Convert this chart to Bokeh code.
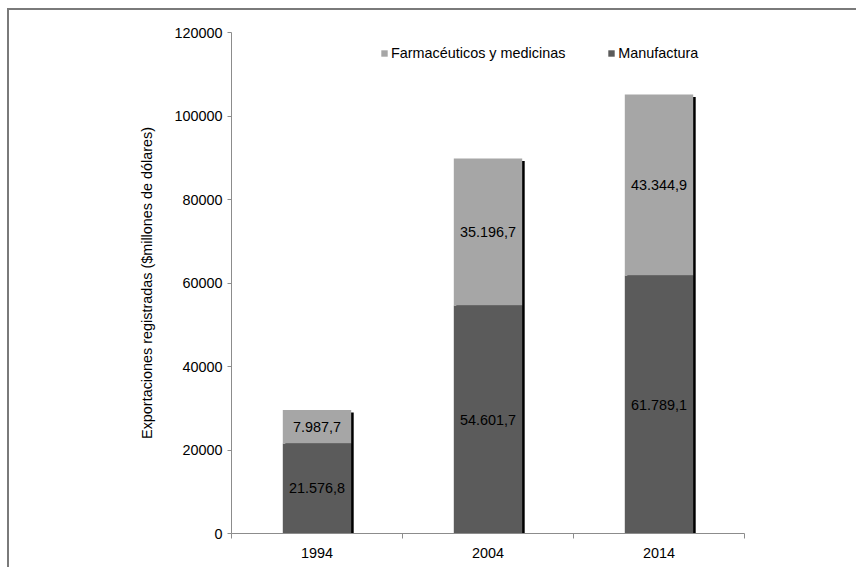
from bokeh.plotting import figure
from bokeh.models import (Range1d, FixedTicker, Legend, LegendItem, ColumnDataSource,
                          NumeralTickFormatter)
from bokeh.embed import file_html
from bokeh.resources import INLINE

# Exportaciones registradas, millones de dólares
years = ["1994", "2004", "2014"]
manufactura = [21576.8, 54601.7, 61789.1]
farmaceuticos = [7987.7, 35196.7, 43344.9]
y_ticks = [0, 20000, 40000, 60000, 80000, 100000, 120000]

LIGHT = "#a6a6a6"
DARK = "#5b5b5b"
AXIS = "#8c8c8c"
FONT = "Liberation Sans"
FS = "14.4px"

# canvas offset inside the page; the frame line is drawn to its top and left
OFF_X, OFF_Y = 9, 10
W, H = 860 - OFF_X, 571 - OFF_Y
FRAME_L, FRAME_T, FRAME_W, FRAME_H = 231 - OFF_X, 32 - OFF_Y, 513, 501
Y_MAX = 120000


def es_fmt(v):
    s = f"{v:,.1f}"
    return s.replace(",", "_").replace(".", ",").replace("_", ".")


x = [i + 0.5 for i in range(len(years))]
totals = [m + f for m, f in zip(manufactura, farmaceuticos)]
bar_w = 0.4

# shadow offset (2.5 px right, 2.5 px down) expressed in data units
sx = 2.5 * len(years) / FRAME_W
sy = 2.5 * Y_MAX / FRAME_H

src = ColumnDataSource(dict(
    x=x,
    xs=[v + sx for v in x],
    man=manufactura,
    far=farmaceuticos,
    tot=totals,
    tot_s=[t - sy for t in totals],
    bot_s=[-sy] * len(x),
    man_mid=[m / 2 for m in manufactura],
    far_mid=[m + f / 2 for m, f in zip(manufactura, farmaceuticos)],
    man_lbl=[es_fmt(v) for v in manufactura],
    far_lbl=[es_fmt(v) for v in farmaceuticos],
))

p = figure(width=W, height=H, output_backend="svg", toolbar_location=None,
           x_range=Range1d(0, len(years)), y_range=Range1d(0, Y_MAX),
           min_border_left=FRAME_L, min_border_top=FRAME_T,
           min_border_right=W - FRAME_L - FRAME_W,
           min_border_bottom=H - FRAME_T - FRAME_H)
# frame line on the top and left of the chart box; right/bottom edges trimmed
p.styles = {"margin-left": f"{OFF_X}px", "margin-top": f"{OFF_Y}px",
            "box-shadow": "-2px -2px 0 0 #7a7a7a",
            "clip-path": "inset(-3px 4px 4px -3px)"}
p.outline_line_color = None
p.grid.visible = False
p.background_fill_color = "white"
p.border_fill_color = "white"

# drop shadows behind the stacked bars
p.vbar(x="xs", width=bar_w, bottom="bot_s", top="tot_s", source=src,
       fill_color="black", line_color=None)

r_man = p.vbar(x="x", width=bar_w, bottom=0, top="man", source=src,
               fill_color=DARK, line_color=None)
r_far = p.vbar(x="x", width=bar_w, bottom="man", top="tot", source=src,
               fill_color=LIGHT, line_color=None)

for col_y, col_t in (("man_mid", "man_lbl"), ("far_mid", "far_lbl")):
    p.text(x="x", y=col_y, text=col_t, source=src, text_align="center",
           text_baseline="middle", text_font_size=FS, text_color="black",
           text_font={"value": FONT})

# axes
ya = p.yaxis[0]
ya.ticker = FixedTicker(ticks=y_ticks)
ya.formatter = NumeralTickFormatter(format="0")
ya.axis_label = "Exportaciones registradas ($millones de dólares)"
ya.axis_label_text_font = FONT
ya.axis_label_text_font_style = "normal"
ya.axis_label_text_font_size = FS
ya.axis_label_text_color = "black"
ya.axis_label_standoff = 16
ya.major_label_text_font = FONT
ya.major_label_text_font_size = FS
ya.major_label_text_color = "black"
ya.major_label_standoff = 5
ya.axis_line_color = AXIS
ya.major_tick_line_color = AXIS
ya.major_tick_out = 4
ya.major_tick_in = 0
ya.minor_tick_line_color = None

xa = p.xaxis[0]
xa.ticker = FixedTicker(ticks=x, minor_ticks=list(range(len(years) + 1)))
xa.major_label_overrides = {v: y for v, y in zip(x, years)}
xa.major_label_text_font = FONT
xa.major_label_text_font_size = FS
xa.major_label_text_color = "black"
xa.major_label_standoff = 8
xa.axis_line_color = AXIS
xa.major_tick_line_color = None
xa.minor_tick_line_color = AXIS
xa.minor_tick_out = 5
xa.minor_tick_in = 0

legend = Legend(items=[LegendItem(label="Farmacéuticos y medicinas", renderers=[r_far]),
                       LegendItem(label="Manufactura", renderers=[r_man])],
                orientation="horizontal", location=(149, 472),
                glyph_width=8, glyph_height=8, label_standoff=3, spacing=42,
                padding=0, margin=0, label_text_font=FONT,
                label_text_font_size=FS, label_text_color="black",
                border_line_color=None, background_fill_alpha=0)
p.add_layout(legend)

open("out.html", "w").write(file_html(p, INLINE))
